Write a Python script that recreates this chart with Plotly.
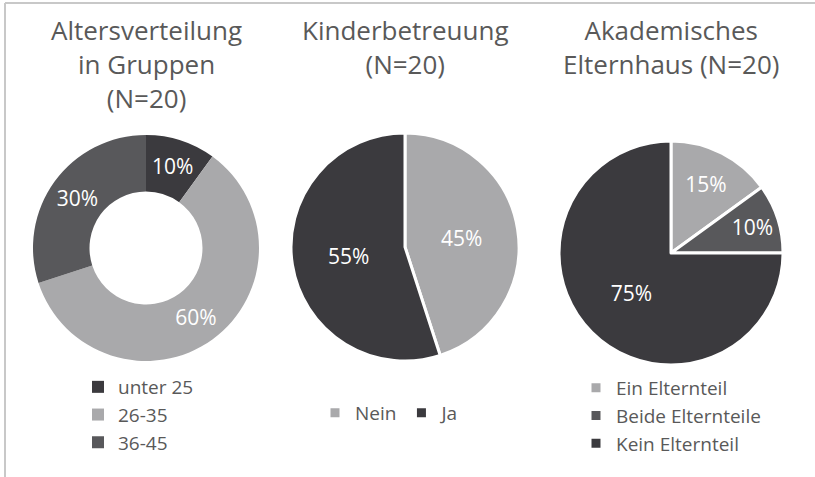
import plotly.graph_objects as go

W, H = 815, 477

# ---- data ----
age_labels = ["unter 25", "26-35", "36-45"]
age_values = [10, 60, 30]

care_labels = ["Nein", "Ja"]
care_values = [45, 55]

acad_labels = ["Ein Elternteil", "Beide Elternteile", "Kein Elternteil"]
acad_values = [15, 10, 75]

titles = ["Altersverteilung<br>in Gruppen<br>(N=20)",
          "Kinderbetreuung<br>(N=20)",
          "Akademisches<br>Elternhaus (N=20)"]

DARK = "#3b3a3e"
LIGHT = "#a9a9ab"
MID = "#58585b"
TXT = "#595959"
FONT = "Open Sans"


def dom(x0, x1, ytop, ybot):
    return dict(x=[x0 / W, x1 / W], y=[1 - ybot / H, 1 - ytop / H])


lab_font = dict(color="white", size=21, family=FONT)

fig = go.Figure()

fig.add_trace(go.Pie(
    labels=age_labels, values=age_values, hole=0.5, sort=False,
    direction="clockwise", rotation=0,
    marker=dict(colors=[DARK, LIGHT, MID], line=dict(width=0)),
    textinfo="percent", textposition="inside", insidetextorientation="horizontal",
    textfont=lab_font,
    domain=dom(33, 259, 135, 361), legend="legend",
))

fig.add_trace(go.Pie(
    labels=care_labels, values=care_values, sort=False,
    direction="clockwise", rotation=0,
    marker=dict(colors=[LIGHT, DARK], line=dict(width=3, color="white")),
    textinfo="percent", textposition="inside", insidetextorientation="horizontal",
    textfont=lab_font,
    domain=dom(291, 519, 133, 361), legend="legend2",
))

fig.add_trace(go.Pie(
    labels=acad_labels, values=acad_values, sort=False,
    direction="clockwise", rotation=0,
    marker=dict(colors=[LIGHT, MID, DARK], line=dict(width=3, color="white")),
    textinfo="percent", textposition="inside", insidetextorientation="horizontal",
    textfont=lab_font,
    domain=dom(559, 783, 141, 365), legend="legend3",
))

tx = [146, 405, 671]
for t, x in zip(titles, tx):
    fig.add_annotation(text=t, x=x / W, y=1 - 10 / H, xref="paper", yref="paper",
                       xanchor="center", yanchor="top", showarrow=False,
                       font=dict(size=26, color=TXT, family=FONT))

leg_font = dict(size=19, color=TXT, family=FONT)
fig.update_layout(
    width=W, height=H,
    margin=dict(l=0, r=0, t=0, b=0),
    paper_bgcolor="white", plot_bgcolor="white",
    font=dict(family=FONT, color=TXT),
    legend=dict(x=78 / W, y=1 - 368 / H, xanchor="left", yanchor="top",
                orientation="v", font=leg_font, bgcolor="rgba(0,0,0,0)"),
    legend2=dict(x=390 / W, y=1 - 394 / H, xanchor="center", yanchor="top",
                 orientation="h", font=leg_font, bgcolor="rgba(0,0,0,0)"),
    legend3=dict(x=576 / W, y=1 - 369 / H, xanchor="left", yanchor="top",
                 orientation="v", font=leg_font, bgcolor="rgba(0,0,0,0)"),
    shapes=[
        dict(type="line", xref="paper", yref="paper", x0=5 / W, x1=1, y0=1 - 3 / H, y1=1 - 3 / H,
             line=dict(color="#c8c8c8", width=2)),
        dict(type="line", xref="paper", yref="paper", x0=5 / W, x1=5 / W, y0=0, y1=1 - 3 / H,
             line=dict(color="#c8c8c8", width=2)),
    ],
)

fig.write_html("out.html", config={"displayModeBar": False},
               post_script="document.body.style.margin='0';")
